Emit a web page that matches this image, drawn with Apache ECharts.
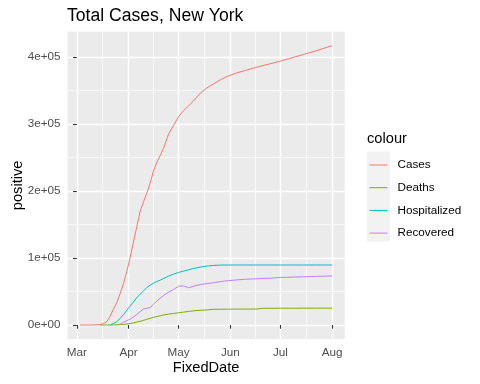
<!DOCTYPE html>
<html>
<head>
<meta charset="utf-8">
<script src="https://cdn.jsdelivr.net/npm/echarts@6/dist/echarts.min.js"></script>
<style>html,body{margin:0;padding:0;background:#fff}#c{width:480px;height:384px}</style>
</head>
<body>
<div id="c"></div>
<script>
// ---- data ----
const dates = ["2020-03-03","2020-03-10","2020-03-15","2020-03-17","2020-03-19","2020-03-21","2020-03-23","2020-03-25","2020-03-27","2020-03-29","2020-03-31","2020-04-02","2020-04-04","2020-04-06","2020-04-08","2020-04-10","2020-04-12","2020-04-14","2020-04-16","2020-04-18","2020-04-20","2020-04-22","2020-04-25","2020-04-28","2020-05-01","2020-05-04","2020-05-07","2020-05-10","2020-05-14","2020-05-18","2020-05-22","2020-05-26","2020-05-31","2020-06-05","2020-06-10","2020-06-15","2020-06-17","2020-06-18","2020-06-20","2020-06-25","2020-07-01","2020-07-08","2020-07-15","2020-07-22","2020-08-01"];
const cases = [0,0,700,2000,5000,13000,24000,33500,47000,62000,80000,101000,124000,147000,170000,184000,197000,212000,230000,243000,253000,264000,285000,298000,311000,320000,327000,335000,346000,354000,360000,366000,372000,376500,380000,383500,385000,385500,387000,390000,394000,399000,404000,409000,417000];
const deaths = [null,null,0,20,40,100,200,300,500,900,1500,2300,3200,4500,5500,7000,8500,10000,11500,12700,13800,15000,16200,17300,18300,19300,20300,21200,22000,22500,23500,23600,23700,23800,23800,23900,23900,25000,25000,25000,25100,25100,25200,25200,25300];
const hospitalized = [null,null,null,null,null,0,2500,5000,10000,15500,22000,28500,34500,41000,46000,51000,56000,59500,62500,65000,67000,69500,73000,76000,78500,80500,82500,84500,86500,88000,89000,89500,89600,89600,89600,89600,89600,89600,89600,89600,89600,89600,89600,89600,89600];
const recovered = [null,null,null,null,null,null,null,null,1500,4000,6500,9000,12000,16000,20000,24000,25000,26000,31000,36000,40000,44000,49000,53000,58000,58400,55700,58000,60500,61800,63200,64800,66300,67400,68300,68900,69100,69200,69500,69900,71000,71500,72000,72500,73300];
const seriesNames = ["Cases","Deaths","Hospitalized","Recovered"];
const seriesColors = ["#F8766D","#7CAE00","#00BFC4","#C77CFF"];
const monthTicks = ["2020-03-01","2020-04-01","2020-05-01","2020-06-01","2020-07-01","2020-08-01"];
const monthLabels = ["Mar","Apr","May","Jun","Jul","Aug"];
const yTicks = [0,100000,200000,300000,400000];
const yTickLabels = ["0e+00","1e+05","2e+05","3e+05","4e+05"];
const yMinor = [50000,150000,250000,350000];

// ---- helpers ----
const DAY = 86400000;
const base = Date.parse("2020-03-01");
const toDay = s => (Date.parse(s) - base) / DAY;
const xMajor = monthTicks.map(toDay);
const xMinor = xMajor.slice(1).map((v, i) => (v + xMajor[i]) / 2);
const allVals = [cases, deaths, hospitalized, recovered];
const dayVals = dates.map(toDay);
const dMin = dayVals[0], dMax = dayVals[dayVals.length - 1];
const xPad = (dMax - dMin) * 0.05;
let vMax = 0; allVals.forEach(a => a.forEach(v => { if (v != null && v > vMax) vMax = v; }));
const yPad = vMax * 0.05;
const xMin = dMin - xPad, xMax = dMax + xPad;
const yMin = -yPad, yMax = vMax + yPad;

const FONT = "Liberation Sans, Arial, sans-serif";
const chart = echarts.init(document.getElementById('c'), null, {renderer: 'canvas'});
const series = seriesNames.map((n, k) => ({
  name: n, type: 'line', xAxisIndex: 0, yAxisIndex: 0,
  symbol: 'none', showSymbol: false, animation: false,
  color: seriesColors[k],
  lineStyle: {color: seriesColors[k], width: 1},
  itemStyle: {color: seriesColors[k]},
  data: dates.map((d, i) => [dayVals[i], allVals[k][i]]),
  connectNulls: false
}));
chart.setOption({
  animation: false,
  color: seriesColors,
  textStyle: {fontFamily: FONT},
  title: [
    {text: 'Total Cases, New York', left: 67, top: 7, padding: 0, textStyle: {fontFamily: FONT, fontSize: 17.6, fontWeight: 'normal', color: '#000'}},
    {text: 'colour', left: 367, top: 131, padding: 0, textStyle: {fontFamily: FONT, fontSize: 14.67, fontWeight: 'normal', color: '#000'}}
  ],
  graphic: [{type: 'rect', left: 367, top: 151.5, shape: {width: 23, height: 90}, style: {fill: '#F2F2F2'}, z: -1}],
  legend: {
    orient: 'vertical', left: 369, top: 159, padding: 0, itemWidth: 18, itemHeight: 14, itemGap: 10.7,
    data: seriesNames,
    itemStyle: {opacity: 0},
    lineStyle: {width: 1},
    textStyle: {fontFamily: FONT, fontSize: 11.7, color: '#000', padding: [0,0,0,5]},
    selectedMode: false
  },
  grid: {left: 67.5, right: 135.3, top: 31.7, bottom: 45, show: true, backgroundColor: '#EBEBEB', borderWidth: 0,
         containLabel: false, outerBoundsMode: 'none'},
  xAxis: [
    {type: 'value', min: xMin, max: xMax, position: 'bottom',
     name: 'FixedDate', nameLocation: 'middle', nameGap: 21, nameMoveOverlap: false,
     nameTextStyle: {fontFamily: FONT, fontSize: 14.67, color: '#000'},
     axisLine: {show: false},
     axisTick: {show: true, length: 3.7, lineStyle: {color: '#333333', width: 1.07}, customValues: xMajor},
     axisLabel: {show: true, margin: 8, customValues: xMajor, fontFamily: FONT, fontSize: 11.7, color: '#4D4D4D',
       formatter: v => { const i = xMajor.findIndex(t => Math.abs(t - v) < 1e-6); return i >= 0 ? monthLabels[i] : ''; }},
     splitLine: {show: true, lineStyle: {color: '#FFFFFF', width: 1.4}}, z: 1},
    {type: 'value', min: xMin, max: xMax, position: 'bottom', show: true,
     axisLine: {show: false}, axisLabel: {show: false},
     axisTick: {show: false, customValues: xMinor},
     splitLine: {show: true, lineStyle: {color: '#FFFFFF', width: 0.7}}, z: 0}
  ],
  yAxis: [
    {type: 'value', min: yMin, max: yMax,
     name: 'positive', nameLocation: 'middle', nameGap: 42, nameRotate: 90, nameMoveOverlap: false,
     nameTextStyle: {fontFamily: FONT, fontSize: 14.67, color: '#000'},
     axisLine: {show: false},
     axisTick: {show: true, length: 3.7, lineStyle: {color: '#333333', width: 1.07}, customValues: yTicks},
     axisLabel: {show: true, margin: 7, customValues: yTicks, fontFamily: FONT, fontSize: 11.7, color: '#4D4D4D',
       formatter: v => { const i = yTicks.indexOf(v); return i >= 0 ? yTickLabels[i] : ''; }},
     splitLine: {show: true, lineStyle: {color: '#FFFFFF', width: 1.4}}, z: 1},
    {type: 'value', min: yMin, max: yMax, show: true,
     axisLine: {show: false}, axisLabel: {show: false},
     axisTick: {show: false, customValues: yMinor},
     splitLine: {show: true, lineStyle: {color: '#FFFFFF', width: 0.7}}, z: 0}
  ],
  series: series
});
</script>
</body>
</html>
